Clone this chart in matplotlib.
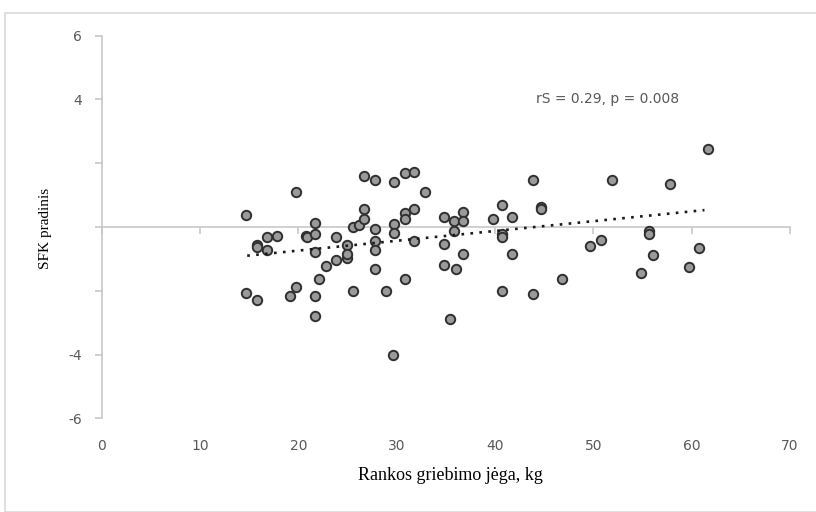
import numpy as np
import matplotlib
matplotlib.use("Agg")
import matplotlib.pyplot as plt
from matplotlib.patches import Rectangle

# rankos griebimo jega (kg) ir SFK pradinis - nuskaityta is paveikslo
grip_kg = [14.7, 19.8, 17.8, 16.8, 15.8, 15.8, 16.8, 14.7, 15.8, 19.1,
           19.8, 21.7, 20.8, 20.9, 21.7, 21.7, 21.7, 21.7, 22.1, 22.8,
           23.8, 23.8, 24.9, 24.9, 24.9, 25.6, 26.2, 25.6, 26.7, 27.8,
           26.7, 26.7, 27.8, 27.8, 27.8, 27.8, 28.9, 29.7, 29.7, 29.7,
           29.6, 30.8, 31.8, 30.8, 30.8, 31.8, 30.8, 31.8, 32.9, 34.8,
           35.8, 36.7, 36.7, 35.8, 34.8, 36.7, 34.8, 36.0, 35.4, 40.7,
           39.8, 41.7, 40.7, 40.7, 41.7, 40.7, 43.9, 44.7, 44.7, 43.9,
           46.8, 49.7, 50.8, 51.9, 55.7, 55.7, 56.1, 54.8, 57.8, 59.7,
           60.7, 61.7]
sfk = [0.37, 1.09, -0.28, -0.32, -0.55, -0.63, -0.71, -2.07, -2.28, -2.15,
       -1.88, 0.12, -0.27, -0.32, -0.22, -0.79, -2.15, -2.80, -1.63, -1.23,
       -0.32, -1.05, -0.98, -0.58, -0.86, -0.01, 0.06, -2.02, 1.60, 1.48,
       0.58, 0.25, -0.06, -0.45, -0.72, -1.31, -2.02, 1.42, 0.08, -0.20,
       -4.02, 1.69, 1.74, 0.45, 0.25, 0.58, -1.63, -0.45, 1.09, 0.30,
       0.20, 0.46, 0.18, -0.12, -0.53, -0.86, -1.18, -1.31, -2.88, 0.70,
       0.25, 0.30, -0.22, -0.30, -0.86, -2.02, 1.47, 0.63, 0.55, -2.09,
       -1.63, -0.60, -0.41, 1.47, -0.12, -0.22, -0.87, -1.45, 1.34, -1.24,
       -0.66, 2.44]

# tendencijos linijos galai (nuskaityta is paveikslo)
trend_x = [14.8, 61.3]
trend_y = [-0.9, 0.53]

x_ticks = [0, 10, 20, 30, 40, 50, 60, 70]
y_ticks = [6, 4, 2, 0, -2, -4, -6]
y_tick_labels = ["6", "4", "", "", "", "-4", "-6"]

W, H = 816, 512
fig = plt.figure(figsize=(W / 100, H / 100), dpi=100)

# remelis aplink diagrama
fig.patches.append(Rectangle((5 / W, 0), 1, 1 - 13 / H, transform=fig.transFigure,
                             fill=False, edgecolor="#d9d9d9", lw=1.2))

left, right, top, bottom = 101.7, 790, 35.7, 418.3
ax = fig.add_axes([left / W, 1 - bottom / H, (right - left) / W, (bottom - top) / H])

ax.scatter(grip_kg, sfk, s=46, facecolor="#9a9a9a", edgecolor="#303030", linewidths=1.4, zorder=3)
ax.plot(trend_x, trend_y, color="#1a1a1a", lw=1.9, linestyle=(0, (1, 2.4)), zorder=4)

ax.set_xlim(0, 70)
ax.set_ylim(-6, 6)

axis_col = "#c8c8c8"
for s in ["top", "right"]:
    ax.spines[s].set_visible(False)
ax.spines["left"].set_color(axis_col)
ax.spines["left"].set_linewidth(1.2)
ax.spines["bottom"].set_position(("data", 0))
ax.spines["bottom"].set_color(axis_col)
ax.spines["bottom"].set_linewidth(1.2)

ax.set_yticks(y_ticks)
ax.set_yticklabels(y_tick_labels)
ax.set_xticks(x_ticks)
ax.tick_params(axis="x", direction="out", length=5, color=axis_col, width=1.2, labelbottom=False)
ax.tick_params(axis="y", direction="out", length=5, color=axis_col, width=1.2,
               labelsize=10, labelcolor="#595959", pad=9)

# x asies skaiciai apacioje
sec = ax.secondary_xaxis(0)
sec.set_xticks(x_ticks)
sec.spines["bottom"].set_visible(False)
sec.tick_params(length=0, pad=15, labelsize=10, labelcolor="#595959")

ax.text(51.4, 4.0, "rS = 0.29, p = 0.008", fontsize=10, color="#595959",
        ha="center", va="center")

fig.text(450 / W, 1 - 475 / H, "Rankos griebimo jėga, kg", fontsize=13,
         family="Liberation Serif", ha="center", va="center")
fig.text(46 / W, 1 - 228 / H, "SFK pradinis", fontsize=11, rotation=90,
         family="Liberation Serif", ha="center", va="center")

fig.savefig("out.png", dpi=100)
